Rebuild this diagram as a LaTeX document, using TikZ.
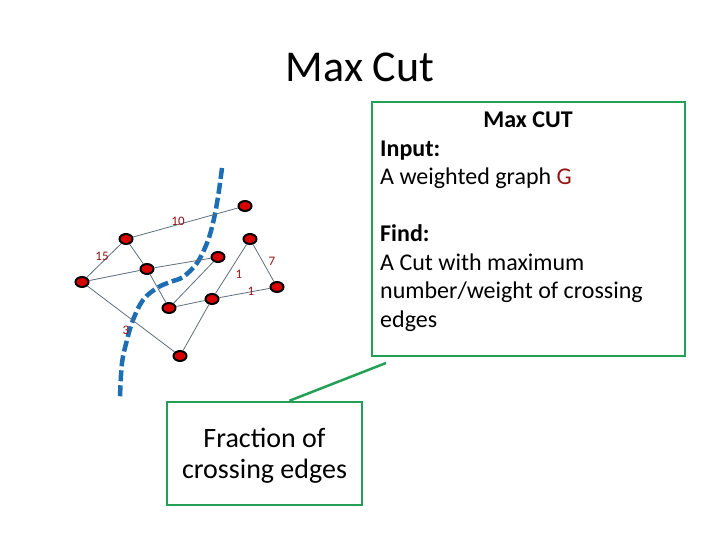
\documentclass[tikz,border=0pt]{standalone}
\usepackage{fontspec}
\setmainfont{Carlito}
\usetikzlibrary{shapes.geometric}
\definecolor{boxgreen}{RGB}{35,160,85}
\definecolor{cutblue}{RGB}{30,110,180}
\definecolor{wred}{RGB}{150,20,20}
\definecolor{edgegray}{RGB}{95,110,125}
\begin{document}
\begin{tikzpicture}[x=1pt,y=-1pt,
  vtx/.style={ellipse,draw=black,line width=2pt,fill=red!85!black,minimum width=13pt,minimum height=10pt,inner sep=0pt},
  edg/.style={draw=edgegray,line width=0.8pt},
  wlab/.style={text=wred,font=\fontsize{13}{13}\selectfont,inner sep=0pt},
  gbox/.style={draw=boxgreen,line width=2.5pt},
  btxt/.style={anchor=base west,inner sep=0pt,font=\fontsize{24}{28}\selectfont}]
\useasboundingbox (0,0) rectangle (720,540);
% title
\node[anchor=base,inner sep=0pt,font=\fontsize{44}{50}\selectfont] (title) at (360,82) {Max Cut};
% cut curve
\draw[cutblue,line width=4.5pt,dash pattern=on 11pt off 4pt] plot[smooth,tension=0.6] coordinates {(222,168) (218,197) (213,223) (207,243) (197,263) (183,277) (170,282) (157,288) (143,300) (133,320) (127,340) (122,363) (120,397)};
% vertices
\node[vtx] (A) at (245,206) {};
\node[vtx] (B) at (126,239) {};
\node[vtx] (C) at (250,239) {};
\node[vtx] (D) at (218,257) {};
\node[vtx] (E) at (147,269) {};
\node[vtx] (F) at (82,282) {};
\node[vtx] (G) at (277,287) {};
\node[vtx] (H) at (212,299) {};
\node[vtx] (I) at (169,308) {};
\node[vtx] (J) at (180,356) {};
% edges
\path[edg] (B) -- (A);
\path[edg] (B) -- (F);
\path[edg] (B) -- (E);
\path[edg] (E) -- (I);
\path[edg] (F) -- (E);
\path[edg] (E) -- (D);
\path[edg] (F) -- (J);
\path[edg] (D) -- (I);
\path[edg] (I) -- (H);
\path[edg] (H) -- (G);
\path[edg] (H) -- (C);
\path[edg] (C) -- (G);
\path[edg] (H) -- (J);
% weights
\node[wlab] (w10) at (178,221) {10};
\node[wlab] (w15) at (102,256) {15};
\node[wlab] (w7) at (272,261) {7};
\node[wlab] (w1a) at (239,274) {1};
\node[wlab] (w1b) at (251,291) {1};
\node[wlab] (w3) at (126,330) {3};
% definition box
\node[gbox,minimum width=313pt,minimum height=254pt,inner sep=0pt] (defbox) at (528.5,229) {};
\node[anchor=base,inner sep=0pt,font=\bfseries\fontsize{24}{28}\selectfont] (mc) at (528,127.5) {Max CUT};
\node[btxt,font=\bfseries\fontsize{24}{28}\selectfont] (inp) at (380,156.5) {Input:};
\node[btxt] (wg) at (380,185) {A weighted graph \textcolor{wred}{G}};
\node[btxt,font=\bfseries\fontsize{24}{28}\selectfont] (fnd) at (380,241.5) {Find:};
\node[btxt] (f1) at (380,270) {A Cut with maximum};
\node[btxt] (f2) at (380,298.5) {number/weight of crossing};
\node[btxt] (f3) at (380,327) {edges};
% fraction box
\node[gbox,minimum width=195pt,minimum height=103pt,inner sep=0pt] (frac) at (264.5,453.5) {};
\node[anchor=base,inner sep=0pt,font=\fontsize{28}{31}\selectfont] (fr1) at (264.5,447.5) {Fraction of};
\node[anchor=base,inner sep=0pt,font=\fontsize{28}{31}\selectfont] (fr2) at (264.5,478.5) {crossing edges};
\coordinate (lend) at (386,363);
\draw[boxgreen,line width=2.5pt] (frac.north) ++(25,0) -- (lend);
\end{tikzpicture}
\end{document}
